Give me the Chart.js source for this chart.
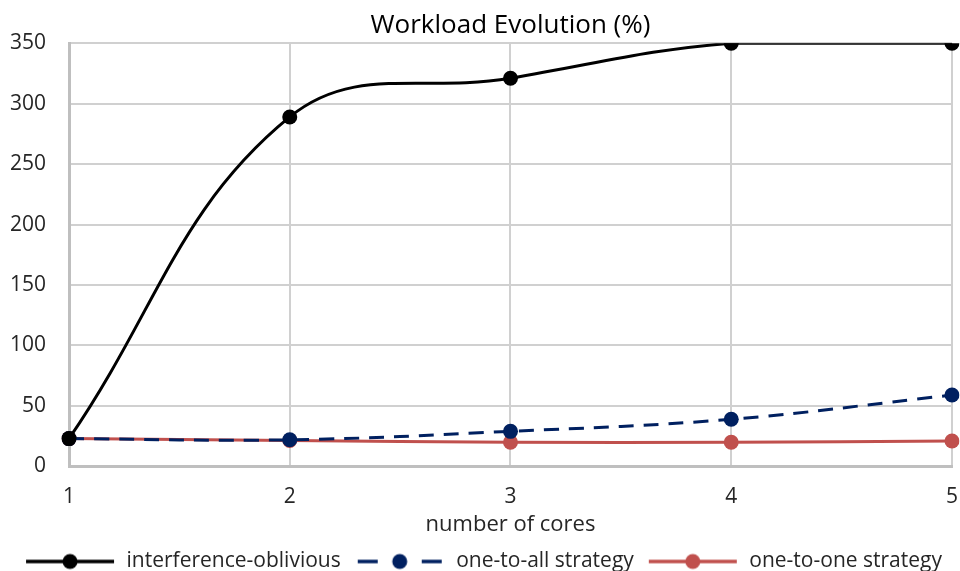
<!DOCTYPE html>
<html>
<head>
<meta charset="utf-8">
<script src="https://cdn.jsdelivr.net/npm/chart.js@4.4.1/dist/chart.umd.min.js"></script>
<style>
  html, body { margin: 0; padding: 0; background: #fff; overflow: hidden; }
  #wrap { position: relative; width: 960px; height: 582px; }
</style>
</head>
<body>
<div id="wrap"><canvas id="myChart"></canvas></div>
<script>
// data
const cores = ['1', '2', '3', '4', '5'];
const interferenceOblivious = [23, 289, 321, 350, 350];
const oneToAll = [23, 22, 29, 39, 59];
const oneToOne = [23, 21.5, 20, 20, 21];
const yTicks = [0, 50, 100, 150, 200, 250, 300, 350];

const FONT = 'Open Sans';
const TEXT = '#262626';

// legend marker: short line with a dot in the middle
function legendMarker(color, dash){
  const c = document.createElement('canvas');
  c.width = 92; c.height = 20;
  const g = c.getContext('2d');
  g.strokeStyle = color;
  g.lineWidth = 3.5;
  g.beginPath();
  if(dash){
    g.moveTo(4, 10); g.lineTo(24, 10);
    g.moveTo(68, 10); g.lineTo(88, 10);
  } else {
    g.moveTo(2, 10); g.lineTo(90, 10);
  }
  g.stroke();
  g.fillStyle = color;
  g.beginPath();
  g.arc(46, 10, 7.5, 0, Math.PI*2);
  g.fill();
  return c;
}

function series(label, data, color, dash){
  return {
    label: label,
    data: data,
    borderColor: color,
    backgroundColor: color,
    borderWidth: 3,
    borderDash: dash || [],
    pointStyle: 'circle',
    pointRadius: 7.5,
    pointHoverRadius: 7.5,
    pointBorderWidth: 0,
    tension: 0.4
  };
}

const ctx = document.getElementById('myChart');
new Chart(ctx, {
  type: 'line',
  data: {
    labels: cores,
    datasets: [
      series('interference-oblivious', interferenceOblivious, '#000000'),
      series('one-to-all strategy', oneToAll, '#002060', [15, 10]),
      series('one-to-one strategy', oneToOne, '#C0504D')
    ]
  },
  options: {
    responsive: true,
    maintainAspectRatio: false,
    animation: false,
    layout: { padding: { left: 6, right: 0, top: 0, bottom: 0 } },
    scales: {
      x: {
        type: 'category',
        offset: false,
        // invisible tick marks give the label gap without widening the right padding
        grid: { color: '#d0d0d0', lineWidth: 2, drawTicks: true, tickLength: 16, tickColor: 'rgba(0,0,0,0)' },
        border: { color: '#bfbfbf', width: 3 },
        ticks: { color: TEXT, padding: 2, font: { family: FONT, size: 21 } },
        title: {
          display: true, text: 'number of cores', color: TEXT,
          font: { family: FONT, size: 22 }, padding: { top: 0, bottom: 0 }
        }
      },
      y: {
        min: 0,
        max: 350,
        afterBuildTicks: function(axis){ axis.ticks = yTicks.map(v => ({ value: v })); },
        afterFit: function(axis){ axis.width = 63; },
        grid: { color: '#d0d0d0', lineWidth: 2, drawTicks: false },
        border: { color: '#bfbfbf', width: 3 },
        ticks: { color: TEXT, padding: 23, font: { family: FONT, size: 21 } }
      }
    },
    plugins: {
      title: {
        display: true,
        fullSize: false,
        text: 'Workload Evolution (%)',
        color: '#000',
        font: { family: FONT, size: 26, weight: 'normal' },
        padding: { top: 10, bottom: 2 }
      },
      legend: {
        position: 'bottom',
        labels: {
          usePointStyle: true,
          pointStyleWidth: 92,
          color: TEXT,
          padding: 13,
          font: { family: FONT, size: 21 },
          generateLabels: function(chart){
            return chart.data.datasets.map((ds, i) => ({
              text: ds.label,
              pointStyle: legendMarker(ds.borderColor, ds.borderDash.length > 0),
              fillStyle: ds.borderColor,
              strokeStyle: ds.borderColor,
              lineWidth: 0,
              fontColor: TEXT,
              datasetIndex: i,
              hidden: false
            }));
          }
        }
      },
      tooltip: { enabled: false }
    }
  }
});
</script>
</body>
</html>
